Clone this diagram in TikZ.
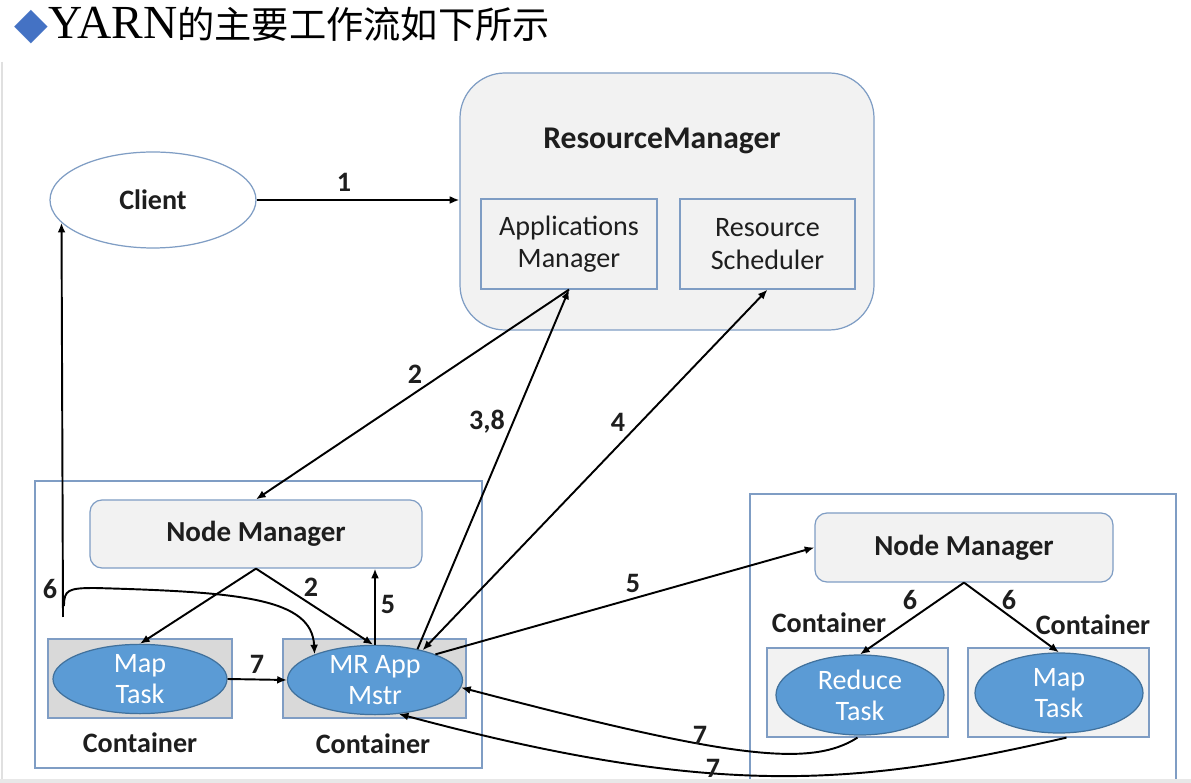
\documentclass[tikz,border=0pt]{standalone}
\usepackage{fontspec}
\setmainfont{Carlito}
\newfontfamily\cjk{Noto Sans CJK SC}
\newfontfamily\titlelat{Liberation Serif}
\newfontfamily\dv{DejaVu Sans}
\usetikzlibrary{shapes.geometric,arrows.meta}
\definecolor{bordc}{RGB}{127,157,196}
\definecolor{boxfill}{RGB}{242,242,242}
\definecolor{contfill}{RGB}{217,217,217}
\definecolor{ellfill}{RGB}{91,155,213}
\definecolor{elldraw}{RGB}{65,113,156}
\definecolor{diam}{RGB}{68,114,196}
\definecolor{txt}{RGB}{30,30,30}
\begin{document}
\begin{tikzpicture}[x=0.02cm,y=-0.02cm,
  box/.style={draw=bordc, fill=boxfill, line width=0.7pt, inner sep=0pt, align=center,
    font=\fontsize{16}{18.5}\selectfont, text=txt},
  rbox/.style={box, rounded corners=0.24cm},
  cont/.style={draw=bordc, line width=0.7pt, inner sep=0pt},
  task/.style={ellipse, draw=elldraw, fill=ellfill, line width=0.7pt, inner sep=0pt,
    text=white, align=center, font=\fontsize{16}{17.5}\selectfont},
  arr/.style={-{Latex[length=5.5pt,width=4.5pt]}, line width=1.1pt},
  lbl/.style={font=\bfseries\fontsize{16}{19}\selectfont, text=txt, inner sep=0pt},
]
\useasboundingbox (0,0) rectangle (1191,783);
\fill[white] (0,0) rectangle (1191,783);
\draw[black!12, line width=1pt] (2,62) -- (2,783);

% title
\node[anchor=west, inner sep=0pt] (title) at (14,25)
  {{\dv\fontsize{25}{25}\selectfont\color{diam}◆}{\titlelat\fontsize{27}{27}\selectfont YARN}{\cjk\fontsize{21.2}{22}\selectfont 的主要工作流如下所示}};

% Resource manager
\node[box, rounded corners=0.9cm, minimum width=414*0.02cm, minimum height=257*0.02cm] (rm) at (667,201.5) {};
\node[lbl, font=\bfseries\fontsize{18}{20}\selectfont] (rmt) at (662,141) {ResourceManager};
\node[box, minimum width=176*0.02cm, minimum height=90*0.02cm] (am) at (569,244) {Applications\\Manager};
\node[box, minimum width=175*0.02cm, minimum height=90*0.02cm] (rs) at (767.5,244) {Resource\\Scheduler};

% client
\node[ellipse, draw=bordc, fill=white, line width=0.7pt, minimum width=206*0.02cm, minimum height=96*0.02cm, inner sep=0pt, lbl] (client) at (153,200) {Client};

% left node
\node[cont, minimum width=447*0.02cm, minimum height=287*0.02cm] (leftn) at (258.5,624.5) {};
\node[rbox, minimum width=332*0.02cm, minimum height=68*0.02cm, font=\bfseries\fontsize{16.5}{19}\selectfont] (nml) at (256,534) {Node Manager};
\node[cont, fill=contfill, minimum width=184*0.02cm, minimum height=79*0.02cm] (mlc) at (140,678.5) {};
\node[task, minimum width=174*0.02cm, minimum height=67*0.02cm] (ml) at (140,679) {Map\\Task};
\node[cont, fill=contfill, minimum width=183*0.02cm, minimum height=79*0.02cm] (mrc) at (374.5,678.5) {};
\node[task, minimum width=175*0.02cm, minimum height=67*0.02cm] (mr) at (375,680) {MR App\\Mstr};
\node[lbl] (cl1) at (140,743) {Container};
\node[lbl] (cl2) at (373,744) {Container};

% right node
\draw[bordc, line width=0.7pt] (750,783) -- (750,494) -- (1176,494) -- (1176,783);
\node[rbox, minimum width=298*0.02cm, minimum height=69*0.02cm, font=\bfseries\fontsize{16.5}{19}\selectfont] (nmr) at (964,547.5) {Node Manager};
\node[cont, fill=boxfill, minimum width=181*0.02cm, minimum height=89*0.02cm] (rc) at (857.5,692.5) {};
\node[task, minimum width=168*0.02cm, minimum height=80*0.02cm] (rr) at (860,695) {Reduce\\Task};
\node[cont, fill=boxfill, minimum width=181*0.02cm, minimum height=89*0.02cm] (mapc) at (1058.5,692.5) {};
\node[task, minimum width=168*0.02cm, minimum height=80*0.02cm] (mapr) at (1059,693) {Map\\Task};
\node[lbl] (cr1) at (829,623) {Container};
\node[lbl] (cr2) at (1093,625) {Container};

% connectors
\draw[arr] (client.east) -- (client.east -| rm.west);
\node[lbl] (l1) at (344,182) {1};
\draw[arr] (am.south) -- (nml.north);
\node[lbl] (l2a) at (415,374) {2};
\draw[arr] (mr.36) -- (am.south);
\node[lbl] (l38) at (487,422) {3,8};
\draw[arr, {Latex[length=5.5pt,width=4.5pt]}-{Latex[length=5.5pt,width=4.5pt]}] (mr.32) -- (rs.south);
\node[lbl] (l4) at (618,422) {4};
\draw[arr] (nml.south) -- (ml.north);
\draw[arr] (nml.south) -- (mr.93);
\node[lbl] (l2b) at (311,587) {2};
\draw[arr] (mr.north) -- (mr.north |- nml.south);
\node[lbl] (l5a) at (388,604) {5};
\coordinate (c6) at (63,617);
\coordinate (b6) at (64,606);
\draw[arr] (c6) -- (client.194);
\draw[arr] (b6) .. controls (64,590) and (68,588) .. (95,588) .. controls (240,592) and (312,598) .. (mr.157);
\node[lbl] (l6a) at (50,589) {6};
\draw[arr] (ml.east) -- (mr.west);
\node[lbl] (l7a) at (257,664) {7};
\draw[arr] (mr.23) -- (nmr.west);
\node[lbl] (l5b) at (633,583) {5};
\draw[arr] (nmr.south) -- (rr.north);
\draw[arr] (nmr.south) -- (mapr.north);
\node[lbl] (l6b) at (910,600) {6};
\node[lbl] (l6c) at (1009,600) {6};
\draw[arr] (rc.south) .. controls (810,768) and (730,758) .. (mr.-5);
\node[lbl] (l7b) at (700,735) {7};
\draw[arr] ([xshift=8*0.02cm]mapc.south) .. controls (860,785) and (720,800) .. (mr.-55);

% bottom strip
\fill[black!9] (0,779) rectangle (1191,783);
\node[lbl] (l7c) at (713,768) {7};
\end{tikzpicture}
\end{document}
